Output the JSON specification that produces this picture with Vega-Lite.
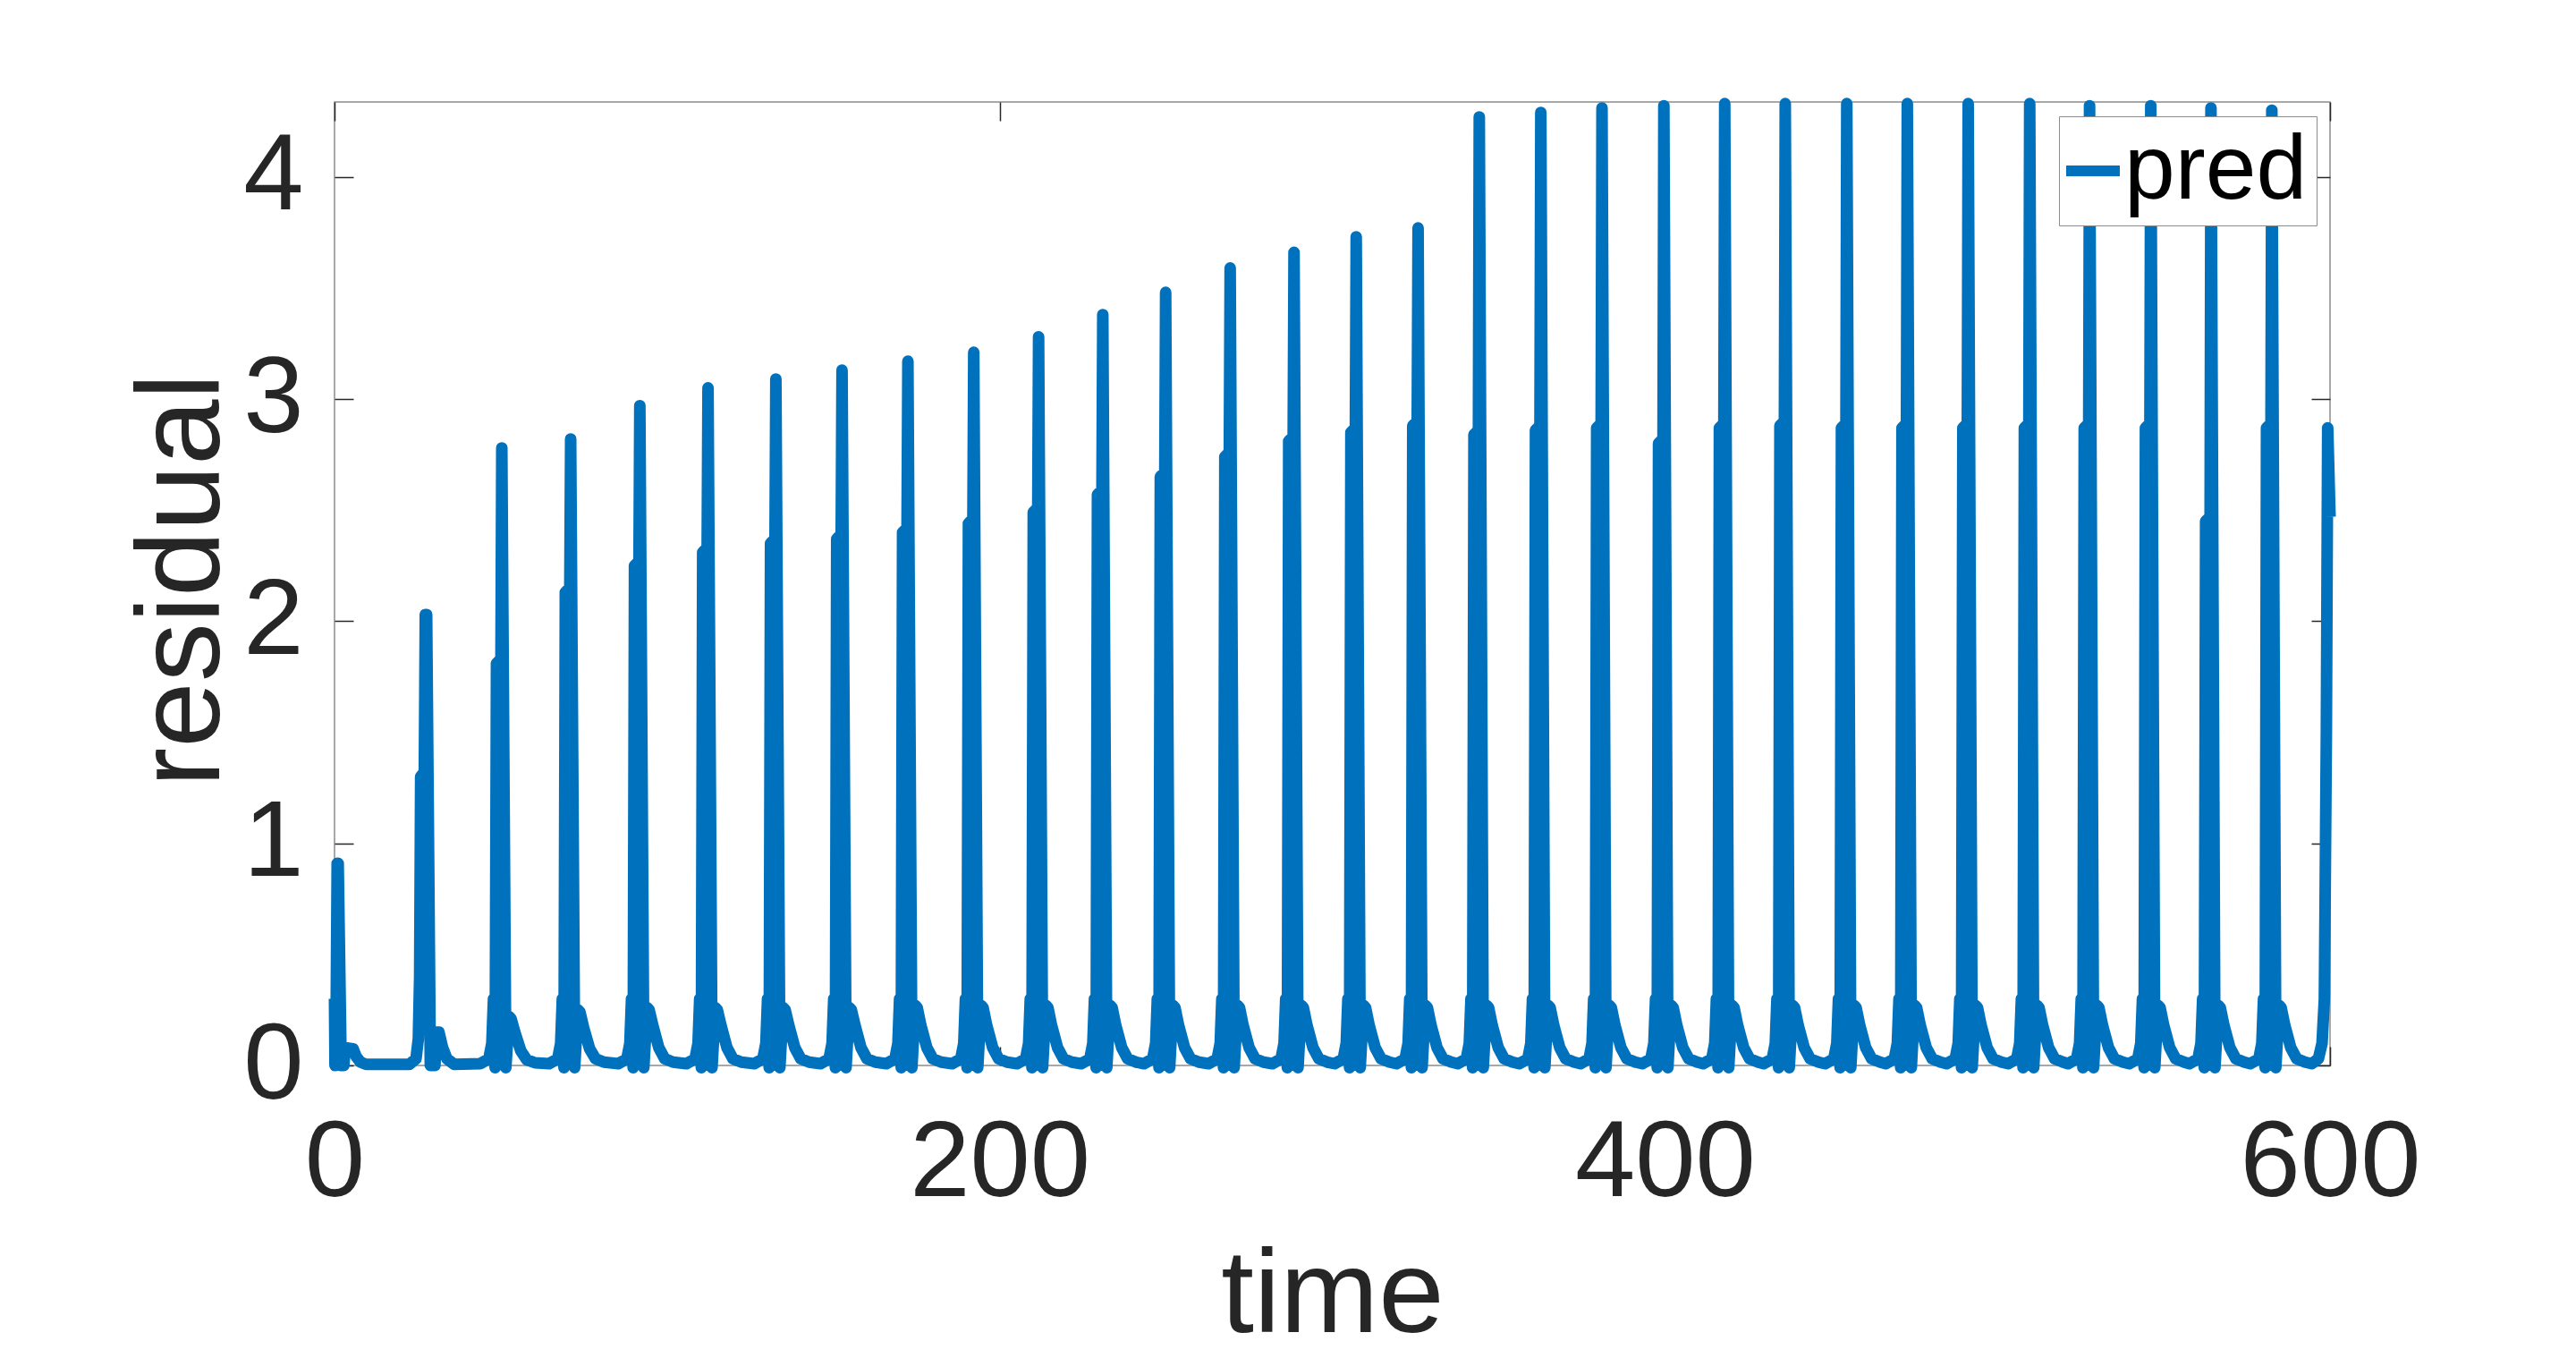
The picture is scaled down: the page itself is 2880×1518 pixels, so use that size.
{
"$schema":"https://vega.github.io/schema/vega-lite/v6.json",
"width":2231,"height":1077,
"autosize":{"type":"none"},
"padding":{"left":374,"top":114,"right":275,"bottom":327},
"background":"white",
"config":{"view":{"stroke":"#8c8c8c","strokeWidth":1.5},"font":"Liberation Sans"},
"data":{"values":[
{"t":0,"v":0.3},{"t":0.15,"v":0.0},{"t":0.4,"v":0.02},{"t":0.8,"v":0.91},{"t":1.1,"v":0.91},{"t":2.0,"v":0.0},{"t":2.8,"v":0.0},{"t":3.2,"v":0.08},{"t":5.6,"v":0.075},{"t":6.5,"v":0.04},{"t":7.8,"v":0.015},{"t":9.5,"v":0.005},
{"t":22.5,"v":0.005},{"t":24.5,"v":0.03},{"t":25.2,"v":0.12},{"t":25.6,"v":0.4},{"t":25.9,"v":1.3},{"t":27.0,"v":1.32},{"t":27.3,"v":2.03},{"t":27.7,"v":2.03},{"t":28.8,"v":0.0},{"t":30.2,"v":0.0},{"t":30.6,"v":0.15},{"t":31.4,"v":0.15},{"t":32.5,"v":0.08},{"t":33.8,"v":0.03},{"t":36,"v":0.005},
{"t":43.8,"v":0.008},{"t":46.4,"v":0.03},{"t":47.3,"v":0.1},{"t":47.8,"v":0.3},{"t":48.3,"v":-0.01},{"t":48.7,"v":1.81},{"t":50.05,"v":1.83},{"t":50.3,"v":2.78},{"t":51.5,"v":-0.01},{"t":52.5,"v":0.22},{"t":53.1,"v":0.21},{"t":54.2,"v":0.15},{"t":56.0,"v":0.066},{"t":57.8,"v":0.026},{"t":60.3,"v":0.012},
{"t":64.5,"v":0.008},{"t":67.1,"v":0.03},{"t":68.0,"v":0.1},{"t":68.5,"v":0.3},{"t":69.0,"v":-0.01},{"t":69.4,"v":2.13},{"t":70.75,"v":2.15},{"t":71.0,"v":2.82},{"t":72.2,"v":-0.01},{"t":73.2,"v":0.25},{"t":73.8,"v":0.24},{"t":74.9,"v":0.17},{"t":76.7,"v":0.075},{"t":78.5,"v":0.03},{"t":81.0,"v":0.015},
{"t":85.3,"v":0.008},{"t":87.9,"v":0.03},{"t":88.8,"v":0.1},{"t":89.3,"v":0.3},{"t":89.8,"v":-0.01},{"t":90.2,"v":2.25},{"t":91.55,"v":2.27},{"t":91.8,"v":2.97},{"t":93.0,"v":-0.01},{"t":94.0,"v":0.26},{"t":94.6,"v":0.25},{"t":95.7,"v":0.18},{"t":97.5,"v":0.08},{"t":99.3,"v":0.03},{"t":101.8,"v":0.015},
{"t":105.8,"v":0.008},{"t":108.4,"v":0.03},{"t":109.3,"v":0.1},{"t":109.8,"v":0.3},{"t":110.3,"v":-0.01},{"t":110.7,"v":2.31},{"t":112.05,"v":2.33},{"t":112.3,"v":3.05},{"t":113.5,"v":-0.01},{"t":114.5,"v":0.26},{"t":115.1,"v":0.25},{"t":116.2,"v":0.18},{"t":118.0,"v":0.08},{"t":119.8,"v":0.03},{"t":122.3,"v":0.015},
{"t":126.2,"v":0.008},{"t":128.8,"v":0.03},{"t":129.7,"v":0.1},{"t":130.2,"v":0.3},{"t":130.7,"v":-0.01},{"t":131.1,"v":2.35},{"t":132.45,"v":2.37},{"t":132.7,"v":3.09},{"t":133.9,"v":-0.01},{"t":134.9,"v":0.26},{"t":135.5,"v":0.25},{"t":136.6,"v":0.18},{"t":138.4,"v":0.08},{"t":140.2,"v":0.03},{"t":142.7,"v":0.015},
{"t":146.1,"v":0.008},{"t":148.7,"v":0.03},{"t":149.6,"v":0.1},{"t":150.1,"v":0.3},{"t":150.6,"v":-0.01},{"t":151.0,"v":2.37},{"t":152.35,"v":2.39},{"t":152.6,"v":3.13},{"t":153.8,"v":-0.01},{"t":154.8,"v":0.26},{"t":155.4,"v":0.25},{"t":156.5,"v":0.18},{"t":158.3,"v":0.08},{"t":160.1,"v":0.03},{"t":162.6,"v":0.015},
{"t":165.9,"v":0.008},{"t":168.5,"v":0.03},{"t":169.4,"v":0.1},{"t":169.9,"v":0.3},{"t":170.4,"v":-0.01},{"t":170.8,"v":2.40},{"t":172.15,"v":2.42},{"t":172.4,"v":3.17},{"t":173.6,"v":-0.01},{"t":174.6,"v":0.27},{"t":175.2,"v":0.26},{"t":176.3,"v":0.18},{"t":178.1,"v":0.08},{"t":179.9,"v":0.03},{"t":182.4,"v":0.015},
{"t":185.7,"v":0.008},{"t":188.3,"v":0.03},{"t":189.2,"v":0.1},{"t":189.7,"v":0.3},{"t":190.2,"v":-0.01},{"t":190.6,"v":2.44},{"t":191.95,"v":2.46},{"t":192.2,"v":3.21},{"t":193.4,"v":-0.01},{"t":194.4,"v":0.27},{"t":195.0,"v":0.26},{"t":196.1,"v":0.18},{"t":197.9,"v":0.08},{"t":199.7,"v":0.03},{"t":202.2,"v":0.015},
{"t":205.2,"v":0.008},{"t":207.8,"v":0.03},{"t":208.7,"v":0.1},{"t":209.2,"v":0.3},{"t":209.7,"v":-0.01},{"t":210.1,"v":2.49},{"t":211.45,"v":2.51},{"t":211.7,"v":3.28},{"t":212.9,"v":-0.01},{"t":213.9,"v":0.27},{"t":214.5,"v":0.26},{"t":215.6,"v":0.18},{"t":217.4,"v":0.08},{"t":219.2,"v":0.03},{"t":221.7,"v":0.015},
{"t":224.5,"v":0.008},{"t":227.1,"v":0.03},{"t":228.0,"v":0.1},{"t":228.5,"v":0.3},{"t":229.0,"v":-0.01},{"t":229.4,"v":2.57},{"t":230.75,"v":2.59},{"t":231.0,"v":3.38},{"t":232.2,"v":-0.01},{"t":233.2,"v":0.27},{"t":233.8,"v":0.26},{"t":234.9,"v":0.18},{"t":236.7,"v":0.08},{"t":238.5,"v":0.03},{"t":241.0,"v":0.015},
{"t":243.4,"v":0.008},{"t":246.0,"v":0.03},{"t":246.9,"v":0.1},{"t":247.4,"v":0.3},{"t":247.9,"v":-0.01},{"t":248.3,"v":2.65},{"t":249.65,"v":2.67},{"t":249.9,"v":3.48},{"t":251.1,"v":-0.01},{"t":252.1,"v":0.27},{"t":252.7,"v":0.26},{"t":253.8,"v":0.18},{"t":255.6,"v":0.08},{"t":257.4,"v":0.03},{"t":259.9,"v":0.015},
{"t":262.8,"v":0.008},{"t":265.4,"v":0.03},{"t":266.3,"v":0.1},{"t":266.8,"v":0.3},{"t":267.3,"v":-0.01},{"t":267.7,"v":2.74},{"t":269.05,"v":2.76},{"t":269.3,"v":3.59},{"t":270.5,"v":-0.01},{"t":271.5,"v":0.27},{"t":272.1,"v":0.26},{"t":273.2,"v":0.18},{"t":275.0,"v":0.08},{"t":276.8,"v":0.03},{"t":279.3,"v":0.015},
{"t":282.0,"v":0.008},{"t":284.6,"v":0.03},{"t":285.5,"v":0.1},{"t":286.0,"v":0.3},{"t":286.5,"v":-0.01},{"t":286.9,"v":2.81},{"t":288.25,"v":2.83},{"t":288.5,"v":3.66},{"t":289.7,"v":-0.01},{"t":290.7,"v":0.27},{"t":291.3,"v":0.26},{"t":292.4,"v":0.18},{"t":294.2,"v":0.08},{"t":296.0,"v":0.03},{"t":298.5,"v":0.015},
{"t":300.7,"v":0.008},{"t":303.3,"v":0.03},{"t":304.2,"v":0.1},{"t":304.7,"v":0.3},{"t":305.2,"v":-0.01},{"t":305.6,"v":2.85},{"t":306.95,"v":2.87},{"t":307.2,"v":3.73},{"t":308.4,"v":-0.01},{"t":309.4,"v":0.27},{"t":310.0,"v":0.26},{"t":311.1,"v":0.18},{"t":312.9,"v":0.08},{"t":314.7,"v":0.03},{"t":317.2,"v":0.015},
{"t":319.3,"v":0.008},{"t":321.9,"v":0.03},{"t":322.8,"v":0.1},{"t":323.3,"v":0.3},{"t":323.8,"v":-0.01},{"t":324.2,"v":2.88},{"t":325.55,"v":2.9},{"t":325.8,"v":3.77},{"t":327.0,"v":-0.01},{"t":328.0,"v":0.27},{"t":328.6,"v":0.26},{"t":329.7,"v":0.18},{"t":331.5,"v":0.08},{"t":333.3,"v":0.03},{"t":335.8,"v":0.015},
{"t":337.7,"v":0.008},{"t":340.3,"v":0.03},{"t":341.2,"v":0.1},{"t":341.7,"v":0.3},{"t":342.2,"v":-0.01},{"t":342.6,"v":2.84},{"t":343.95,"v":2.86},{"t":344.2,"v":4.27},{"t":345.4,"v":-0.01},{"t":346.4,"v":0.27},{"t":347.0,"v":0.26},{"t":348.1,"v":0.18},{"t":349.9,"v":0.08},{"t":351.7,"v":0.03},{"t":354.2,"v":0.015},
{"t":356.2,"v":0.008},{"t":358.8,"v":0.03},{"t":359.7,"v":0.1},{"t":360.2,"v":0.3},{"t":360.7,"v":-0.01},{"t":361.1,"v":2.86},{"t":362.45,"v":2.88},{"t":362.7,"v":4.29},{"t":363.9,"v":-0.01},{"t":364.9,"v":0.27},{"t":365.5,"v":0.26},{"t":366.6,"v":0.18},{"t":368.4,"v":0.08},{"t":370.2,"v":0.03},{"t":372.7,"v":0.015},
{"t":374.6,"v":0.008},{"t":377.2,"v":0.03},{"t":378.1,"v":0.1},{"t":378.6,"v":0.3},{"t":379.1,"v":-0.01},{"t":379.5,"v":2.87},{"t":380.85,"v":2.89},{"t":381.1,"v":4.31},{"t":382.3,"v":-0.01},{"t":383.3,"v":0.27},{"t":383.9,"v":0.26},{"t":385.0,"v":0.18},{"t":386.8,"v":0.08},{"t":388.6,"v":0.03},{"t":391.1,"v":0.015},
{"t":393.2,"v":0.008},{"t":395.8,"v":0.03},{"t":396.7,"v":0.1},{"t":397.2,"v":0.3},{"t":397.7,"v":-0.01},{"t":398.1,"v":2.80},{"t":399.45,"v":2.82},{"t":399.7,"v":4.32},{"t":400.9,"v":-0.01},{"t":401.9,"v":0.27},{"t":402.5,"v":0.26},{"t":403.6,"v":0.18},{"t":405.4,"v":0.08},{"t":407.2,"v":0.03},{"t":409.7,"v":0.015},
{"t":411.5,"v":0.008},{"t":414.1,"v":0.03},{"t":415.0,"v":0.1},{"t":415.5,"v":0.3},{"t":416.0,"v":-0.01},{"t":416.4,"v":2.87},{"t":417.75,"v":2.89},{"t":418.0,"v":4.33},{"t":419.2,"v":-0.01},{"t":420.2,"v":0.27},{"t":420.8,"v":0.26},{"t":421.9,"v":0.18},{"t":423.7,"v":0.08},{"t":425.5,"v":0.03},{"t":428.0,"v":0.015},
{"t":429.7,"v":0.008},{"t":432.3,"v":0.03},{"t":433.2,"v":0.1},{"t":433.7,"v":0.3},{"t":434.2,"v":-0.01},{"t":434.6,"v":2.88},{"t":435.95,"v":2.9},{"t":436.2,"v":4.33},{"t":437.4,"v":-0.01},{"t":438.4,"v":0.27},{"t":439.0,"v":0.26},{"t":440.1,"v":0.18},{"t":441.9,"v":0.08},{"t":443.7,"v":0.03},{"t":446.2,"v":0.015},
{"t":448.2,"v":0.008},{"t":450.8,"v":0.03},{"t":451.7,"v":0.1},{"t":452.2,"v":0.3},{"t":452.7,"v":-0.01},{"t":453.1,"v":2.87},{"t":454.45,"v":2.89},{"t":454.7,"v":4.33},{"t":455.9,"v":-0.01},{"t":456.9,"v":0.27},{"t":457.5,"v":0.26},{"t":458.6,"v":0.18},{"t":460.4,"v":0.08},{"t":462.2,"v":0.03},{"t":464.7,"v":0.015},
{"t":466.4,"v":0.008},{"t":469.0,"v":0.03},{"t":469.9,"v":0.1},{"t":470.4,"v":0.3},{"t":470.9,"v":-0.01},{"t":471.3,"v":2.87},{"t":472.65,"v":2.89},{"t":472.9,"v":4.33},{"t":474.1,"v":-0.01},{"t":475.1,"v":0.27},{"t":475.7,"v":0.26},{"t":476.8,"v":0.18},{"t":478.6,"v":0.08},{"t":480.4,"v":0.03},{"t":482.9,"v":0.015},
{"t":484.7,"v":0.008},{"t":487.3,"v":0.03},{"t":488.2,"v":0.1},{"t":488.7,"v":0.3},{"t":489.2,"v":-0.01},{"t":489.6,"v":2.87},{"t":490.95,"v":2.89},{"t":491.2,"v":4.33},{"t":492.4,"v":-0.01},{"t":493.4,"v":0.27},{"t":494.0,"v":0.26},{"t":495.1,"v":0.18},{"t":496.9,"v":0.08},{"t":498.7,"v":0.03},{"t":501.2,"v":0.015},
{"t":503.2,"v":0.008},{"t":505.8,"v":0.03},{"t":506.7,"v":0.1},{"t":507.2,"v":0.3},{"t":507.7,"v":-0.01},{"t":508.1,"v":2.87},{"t":509.45,"v":2.89},{"t":509.7,"v":4.33},{"t":510.9,"v":-0.01},{"t":511.9,"v":0.27},{"t":512.5,"v":0.26},{"t":513.6,"v":0.18},{"t":515.4,"v":0.08},{"t":517.2,"v":0.03},{"t":519.7,"v":0.015},
{"t":521.2,"v":0.008},{"t":523.8,"v":0.03},{"t":524.7,"v":0.1},{"t":525.2,"v":0.3},{"t":525.7,"v":-0.01},{"t":526.1,"v":2.87},{"t":527.45,"v":2.89},{"t":527.7,"v":4.32},{"t":528.9,"v":-0.01},{"t":529.9,"v":0.27},{"t":530.5,"v":0.26},{"t":531.6,"v":0.18},{"t":533.4,"v":0.08},{"t":535.2,"v":0.03},{"t":537.7,"v":0.015},
{"t":539.6,"v":0.008},{"t":542.2,"v":0.03},{"t":543.1,"v":0.1},{"t":543.6,"v":0.3},{"t":544.1,"v":-0.01},{"t":544.5,"v":2.87},{"t":545.85,"v":2.89},{"t":546.1,"v":4.32},{"t":547.3,"v":-0.01},{"t":548.3,"v":0.27},{"t":548.9,"v":0.26},{"t":550.0,"v":0.18},{"t":551.8,"v":0.08},{"t":553.6,"v":0.03},{"t":556.1,"v":0.015},
{"t":557.7,"v":0.008},{"t":560.3,"v":0.03},{"t":561.2,"v":0.1},{"t":561.7,"v":0.3},{"t":562.2,"v":-0.01},{"t":562.6,"v":2.45},{"t":563.95,"v":2.47},{"t":564.2,"v":4.31},{"t":565.4,"v":-0.01},{"t":566.4,"v":0.27},{"t":567.0,"v":0.26},{"t":568.1,"v":0.18},{"t":569.9,"v":0.08},{"t":571.7,"v":0.03},{"t":574.2,"v":0.015},
{"t":576.0,"v":0.008},{"t":578.6,"v":0.03},{"t":579.5,"v":0.1},{"t":580.0,"v":0.3},{"t":580.5,"v":-0.01},{"t":580.9,"v":2.87},{"t":582.25,"v":2.89},{"t":582.5,"v":4.30},{"t":583.7,"v":-0.01},{"t":584.7,"v":0.27},{"t":585.3,"v":0.26},{"t":586.4,"v":0.18},{"t":588.2,"v":0.08},{"t":590.0,"v":0.03},{"t":592.5,"v":0.015},
{"t":594.5,"v":0.008},{"t":596.5,"v":0.03},{"t":597.6,"v":0.1},{"t":598.3,"v":0.3},{"t":598.9,"v":1.5},{"t":599.3,"v":2.87},{"t":600,"v":2.47}
]},
"layer":[
{"mark":{"type":"line","strokeWidth":13,"strokeJoin":"round","clip":false},
 "encoding":{
  "x":{"field":"t","type":"quantitative","scale":{"domain":[0,600],"nice":false,"zero":false},
   "axis":{"values":[0,200,400,600],"title":"time","grid":false,"domain":false,
    "tickSize":-21,"tickColor":"#262626","tickWidth":1.5,
    "labelFontSize":121,"labelColor":"#262626","labelFont":"Liberation Sans","labelPadding":70,"labelFlush":false,"labelLimit":1000,"labelOverlap":false,
    "titleFontSize":132,"titleFontWeight":"normal","titleColor":"#262626","titleFont":"Liberation Sans",
    "titleX":1115.5,"titleY":297,"titleAlign":"center","titleBaseline":"alphabetic","titleAnchor":null}},
  "y":{"field":"v","type":"quantitative","scale":{"domain":[0,4.337],"nice":false,"zero":false},
   "axis":{"values":[0,1,2,3,4],"title":"residual","grid":false,"domain":false,
    "tickSize":-21,"tickColor":"#262626","tickWidth":1.5,
    "labelFontSize":121,"labelColor":"#262626","labelFont":"Liberation Sans","labelPadding":56,"labelFlush":false,"labelLimit":1000,"labelOverlap":false,
    "titleFontSize":132,"titleFontWeight":"normal","titleColor":"#262626","titleFont":"Liberation Sans",
    "titleX":-130,"titleY":534,"titleAngle":270,"titleAlign":"center","titleBaseline":"alphabetic"}},
  "color":{"datum":"pred","type":"nominal","scale":{"domain":["pred"],"range":["#0072BD"]},
   "legend":{"orient":"none","legendX":1928,"legendY":16,"title":null,"symbolType":"stroke","symbolSize":3600,
    "symbolStrokeWidth":12,"symbolOffset":-23,"labelFontSize":102,"labelColor":"black","labelFont":"Liberation Sans","labelOffset":-16,
    "padding":10,"strokeColor":"#8c8c8c","fillColor":"white","labelLimit":1000}}
 }},
{"mark":{"type":"point","opacity":0},
 "encoding":{
  "x":{"field":"t","type":"quantitative","scale":{"domain":[0,600],"nice":false,"zero":false},
   "axis":{"orient":"top","values":[0,200,400,600],"title":null,"labels":false,"grid":false,"domain":false,"tickSize":-21,"tickColor":"#262626","tickWidth":1.5}},
  "y":{"field":"v","type":"quantitative","scale":{"domain":[0,4.337],"nice":false,"zero":false},
   "axis":{"orient":"right","values":[0,1,2,3,4],"title":null,"labels":false,"grid":false,"domain":false,"tickSize":-21,"tickColor":"#262626","tickWidth":1.5}}
 }}
],
"resolve":{"axis":{"x":"independent","y":"independent"}}
}
